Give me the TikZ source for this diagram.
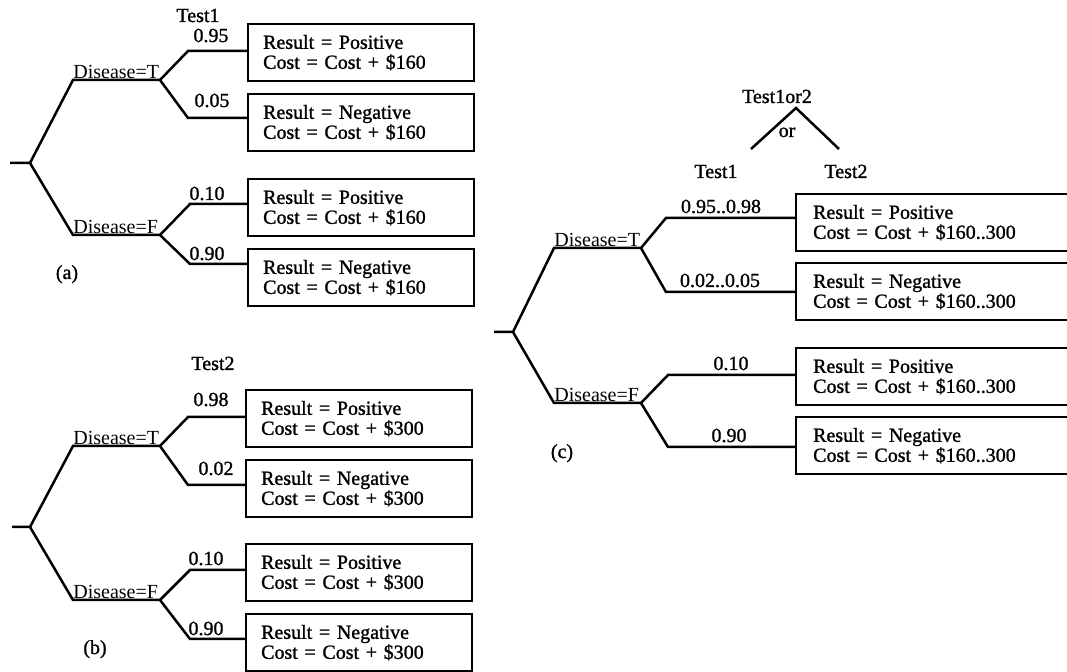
\documentclass[tikz,border=0pt]{standalone}
\usepackage{fontspec}
\setmainfont{Liberation Serif}
\newfontfamily\heavyfont{Liberation Serif}[FakeBold=1.2]
\begin{document}
\begin{tikzpicture}[x=0.5pt,y=-0.5pt,
  every node/.style={font=\heavyfont\fontsize{10}{10}\selectfont, inner sep=0pt},
  ln/.style={line width=1.25pt, line join=miter},
  lbl/.style={anchor=base},
  dlbl/.style={anchor=base west, inner sep=0pt, font=\rmfamily\fontsize{10}{10}\selectfont},
  res/.style={draw, line width=1.15pt, anchor=north west, align=left,
              text width=#1, inner xsep=7.5pt, minimum height=28.5pt},
]
\useasboundingbox (0,0) rectangle (1067,672);
\fill[white] (0,0) rectangle (1067,672);
\clip (0,0) rectangle (1067,672);

% ---------------- (a) ----------------
\node[res=98pt] (a1) at (247,23)  {Result = Positive\\Cost = Cost + \$160};
\node[res=98pt] (a2) at (247,93)  {Result = Negative\\Cost = Cost + \$160};
\node[res=98pt] (a3) at (247,178) {Result = Positive\\Cost = Cost + \$160};
\node[res=98pt] (a4) at (247,248) {Result = Negative\\Cost = Cost + \$160};
\coordinate (aS) at (10,163);  \coordinate (aR) at (30,163);
\coordinate (aT0) at (73,80);  \coordinate (aT1) at (160,80);
\coordinate (aF0) at (73,235); \coordinate (aF1) at (160,235);
\coordinate (aTp) at (188,51); \coordinate (aTn) at (188,118);
\coordinate (aFp) at (190,204); \coordinate (aFn) at (190,264);
\draw[ln] (aS) -- (aR) -- (aT0) -- (aT1) -- (aTp) -- (aTp -| a1.west);
\draw[ln] (aT1) -- (aTn) -- (aTn -| a2.west);
\draw[ln] (aR) -- (aF0) -- (aF1) -- (aFp) -- (aFp -| a3.west);
\draw[ln] (aF1) -- (aFn) -- (aFn -| a4.west);
\node[dlbl] (aTl) at (73,79) {Disease=T};
\node[dlbl] (aFl) at (73,234) {Disease=F};
\node[lbl] (aTest) at (198,22) {Test1};
\node[lbl] (ap1) at (211,42) {0.95};
\node[lbl] (ap2) at (212,107) {0.05};
\node[lbl] (ap3) at (207,200) {0.10};
\node[lbl] (ap4) at (207,260) {0.90};
\node[lbl] (acap) at (67,279) {(a)};

% ---------------- (b) ----------------
\node[res=98pt] (b1) at (245,389) {Result = Positive\\Cost = Cost + \$300};
\node[res=98pt] (b2) at (245,459) {Result = Negative\\Cost = Cost + \$300};
\node[res=98pt] (b3) at (245,543) {Result = Positive\\Cost = Cost + \$300};
\node[res=98pt] (b4) at (245,613) {Result = Negative\\Cost = Cost + \$300};
\coordinate (bS) at (12,527);  \coordinate (bR) at (30,527);
\coordinate (bT0) at (73,446); \coordinate (bT1) at (160,446);
\coordinate (bF0) at (73,600); \coordinate (bF1) at (160,600);
\coordinate (bTp) at (188,417); \coordinate (bTn) at (188,485);
\coordinate (bFp) at (190,570); \coordinate (bFn) at (190,639);
\draw[ln] (bS) -- (bR) -- (bT0) -- (bT1) -- (bTp) -- (bTp -| b1.west);
\draw[ln] (bT1) -- (bTn) -- (bTn -| b2.west);
\draw[ln] (bR) -- (bF0) -- (bF1) -- (bFp) -- (bFp -| b3.west);
\draw[ln] (bF1) -- (bFn) -- (bFn -| b4.west);
\node[dlbl] (bTl) at (73,445) {Disease=T};
\node[dlbl] (bFl) at (73,599) {Disease=F};
\node[lbl] (bTest) at (213,370) {Test2};
\node[lbl] (bp1) at (211,406) {0.98};
\node[lbl] (bp2) at (216,475) {0.02};
\node[lbl] (bp3) at (206,565) {0.10};
\node[lbl] (bp4) at (206,635) {0.90};
\node[lbl] (bcap) at (95,654) {(b)};

% ---------------- (c) ----------------
\node[res=145pt, inner xsep=8.5pt] (c1) at (795,193) {Result = Positive\\Cost = Cost + \$160..300};
\node[res=145pt, inner xsep=8.5pt] (c2) at (795,262) {Result = Negative\\Cost = Cost + \$160..300};
\node[res=145pt, inner xsep=8.5pt] (c3) at (795,347) {Result = Positive\\Cost = Cost + \$160..300};
\node[res=145pt, inner xsep=8.5pt] (c4) at (795,416) {Result = Negative\\Cost = Cost + \$160..300};
\coordinate (cS) at (494,332);  \coordinate (cR) at (513,332);
\coordinate (cT0) at (554,248); \coordinate (cT1) at (641,248);
\coordinate (cF0) at (554,403); \coordinate (cF1) at (641,403);
\coordinate (cTp) at (666,218); \coordinate (cTn) at (666,292);
\coordinate (cFp) at (668,375); \coordinate (cFn) at (668,447);
\draw[ln] (cS) -- (cR) -- (cT0) -- (cT1) -- (cTp) -- (cTp -| c1.west);
\draw[ln] (cT1) -- (cTn) -- (cTn -| c2.west);
\draw[ln] (cR) -- (cF0) -- (cF1) -- (cFp) -- (cFp -| c3.west);
\draw[ln] (cF1) -- (cFn) -- (cFn -| c4.west);
\node[dlbl] (cTl) at (554,247) {Disease=T};
\node[dlbl] (cFl) at (554,402) {Disease=F};
\node[lbl] (cor2) at (777,103) {Test1or2};
\coordinate (cApex) at (796,108);
\coordinate (cOrL) at (751,149);
\coordinate (cOrR) at (839,149);
\draw[ln] (cOrL) -- (cApex) -- (cOrR);
\node[lbl] (cor) at (787,137) {or};
\node[lbl] (cTest1) at (716,178) {Test1};
\node[lbl] (cTest2) at (846,178) {Test2};
\node[lbl] (cp1) at (721,213) {0.95..0.98};
\node[lbl] (cp2) at (720,287) {0.02..0.05};
\node[lbl] (cp3) at (731,370) {0.10};
\node[lbl] (cp4) at (729,442) {0.90};
\node[lbl] (ccap) at (562,458) {(c)};
\end{tikzpicture}
\end{document}
